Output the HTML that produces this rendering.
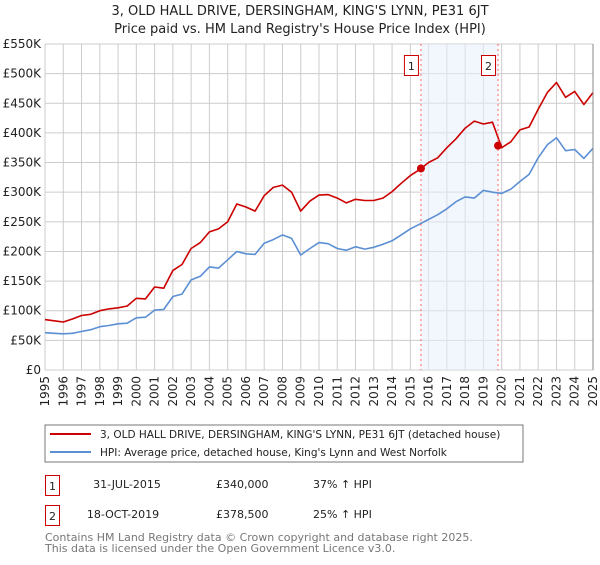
<!DOCTYPE html>
<html><head><meta charset="utf-8"><style>
body{margin:0;background:#fff;font-family:"Liberation Sans","DejaVu Sans",sans-serif;}
svg text{font-family:"DejaVu Sans","Liberation Sans",sans-serif;}
</style></head><body>
<svg id="chart" width="600" height="560" viewBox="0 0 600 560">
<text x="300" y="15" text-anchor="middle" font-size="13" fill="#222">3, OLD HALL DRIVE, DERSINGHAM, KING'S LYNN, PE31 6JT</text>
<text x="300" y="33" text-anchor="middle" font-size="13" fill="#222">Price paid vs. HM Land Registry's House Price Index (HPI)</text>
<g id="grid"></g><g id="shade"></g><g id="series"></g><g id="axes"></g>
<rect x="45" y="425" width="478" height="37" fill="#fff" stroke="#777"/>
<line x1="50" y1="434" x2="91" y2="434" stroke="#cc0000" stroke-width="2"/>
<text x="100" y="438" font-size="10.5" fill="#222">3, OLD HALL DRIVE, DERSINGHAM, KING'S LYNN, PE31 6JT (detached house)</text>
<line x1="50" y1="452" x2="91" y2="452" stroke="#5b8fd4" stroke-width="2"/>
<text x="100" y="456" font-size="10.5" fill="#222">HPI: Average price, detached house, King's Lynn and West Norfolk</text>
<rect x="45.5" y="475.5" width="14" height="20" fill="#fff" stroke="#cc0000"/>
<text x="52.5" y="490" text-anchor="middle" font-size="11" fill="#222">1</text>
<text x="127" y="488" text-anchor="middle" font-size="11" fill="#222">31-JUL-2015</text>
<text x="216" y="488" font-size="11" fill="#222">£340,000</text>
<text x="313" y="488" font-size="11" fill="#222">37% ↑ HPI</text>
<rect x="45.5" y="505.5" width="14" height="20" fill="#fff" stroke="#cc0000"/>
<text x="52.5" y="520" text-anchor="middle" font-size="11" fill="#222">2</text>
<text x="123" y="518" text-anchor="middle" font-size="11" fill="#222">18-OCT-2019</text>
<text x="216" y="518" font-size="11" fill="#222">£378,500</text>
<text x="313" y="518" font-size="11" fill="#222">25% ↑ HPI</text>
<text x="45" y="541" font-size="11" fill="#777">Contains HM Land Registry data © Crown copyright and database right 2025.</text>
<text x="45" y="552" font-size="11" fill="#777">This data is licensed under the Open Government Licence v3.0.</text>
</svg>
<script>
const years=[1995,1996,1997,1998,1999,2000,2001,2002,2003,2004,2005,2006,2007,2008,2009,2010,2011,2012,2013,2014,2015,2016,2017,2018,2019,2020,2021,2022,2023,2024,2025];
const yTicks=[0,50,100,150,200,250,300,350,400,450,500,550];
const yTickLabels=["£0","£50K","£100K","£150K","£200K","£250K","£300K","£350K","£400K","£450K","£500K","£550K"];
const startYear=1995, stepYears=0.5;
const propertySeries=[85,83,81,86,92,94,100,103,105,108,121,120,140,138,168,178,205,215,233,238,250,280,275,268,294,308,312,300,268,285,295,296,290,282,288,286,286,290,301,315,328,338,350,358,375,390,408,420,415,418,375,385,405,410,440,468,485,460,470,448,468];
const hpiSeries=[63,62,61,62,65,68,73,75,78,79,88,89,101,102,124,128,152,158,174,172,186,200,196,195,214,220,228,222,194,205,215,213,205,202,208,204,207,212,218,228,238,246,254,262,272,284,292,290,303,300,298,305,318,330,358,380,392,370,372,357,374];
const saleDates=[2015.58,2019.8];
const salePrices=[340,378.5];
const saleLabels=["1","2"];
const NS="http://www.w3.org/2000/svg";
const X0=45,X1=593,Y0=370,Y1=44;
const xs=y=>X0+(y-1995)/30*(X1-X0);
const ys=v=>Y0-v/550*(Y0-Y1);
function mk(tag,attrs,parent){const e=document.createElementNS(NS,tag);for(const k in attrs)e.setAttribute(k,attrs[k]);parent.appendChild(e);return e;}
const grid=document.getElementById('grid'),axes=document.getElementById('axes'),shade=document.getElementById('shade'),ser=document.getElementById('series');
yTicks.forEach((t,i)=>{
 const l=mk('line',{x1:X0,x2:X1,y1:ys(t),y2:ys(t),stroke:'#cccccc','stroke-width':1},grid);
 
 
 const tx=mk('text',{x:X0-4,y:ys(t)+4,'text-anchor':'end','font-size':12,fill:'#222'},axes);
 tx.textContent=yTickLabels[i];
 
 
});
years.forEach(y=>{
 const l=mk('line',{x1:xs(y),x2:xs(y),y1:Y1,y2:Y0,stroke:'#cccccc','stroke-width':1},grid);
 
 
 const tx=mk('text',{x:0,y:0,'text-anchor':'end','font-size':12,fill:'#222',transform:`translate(${xs(y)+4},${Y0+6}) rotate(-90)`},axes);
 tx.textContent=y;
 
 
});
const sh=mk('rect',{x:xs(saleDates[0]),y:Y1,width:xs(saleDates[1])-xs(saleDates[0]),height:Y0-Y1,fill:'#e8eefc','fill-opacity':0.55},shade);


function path(arr,color,name){
 const d=arr.map((v,i)=>(i?'L':'M')+xs(startYear+i*stepYears).toFixed(1)+','+ys(v).toFixed(1)).join('');
 const p=mk('path',{d:d,fill:'none',stroke:color,'stroke-width':1.6,'stroke-linejoin':'round'},ser);
 
 
}
path(hpiSeries,'#5b8fd4','hpi-line');
path(propertySeries,'#cc0000','property-line');
saleDates.forEach((d,i)=>{
 const vl=mk('line',{x1:xs(d),x2:xs(d),y1:Y1,y2:Y0,stroke:'#ff6666','stroke-width':1,'stroke-dasharray':'2,3'},ser);
 
 
 const c=mk('circle',{cx:xs(d),cy:ys(salePrices[i]),r:4,fill:'#cc0000'},ser);
 
 
 const b=mk('rect',{x:xs(d)-16.5,y:55.5,width:14,height:20,fill:'#fff',stroke:'#cc0000'},ser);
 
 
 const t=mk('text',{x:xs(d)-9.5,y:70,'text-anchor':'middle','font-size':11,fill:'#222'},ser);
 t.textContent=saleLabels[i];
 
 
});
const ax=mk('line',{x1:X1,x2:X1,y1:Y1,y2:Y0,stroke:'#888','stroke-width':1},axes);


</script>
</body></html>
